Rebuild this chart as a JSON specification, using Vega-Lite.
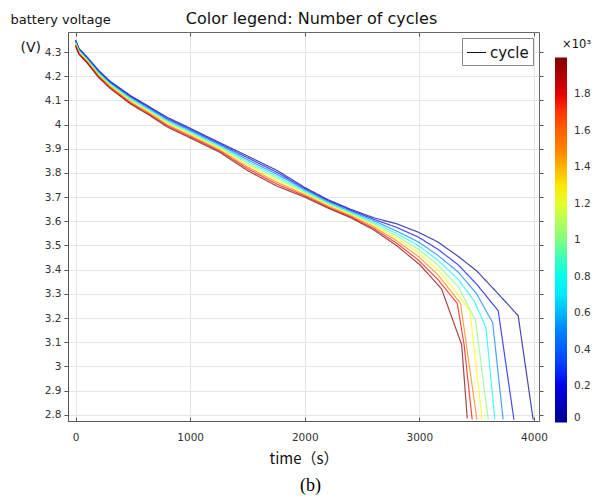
{
  "$schema": "https://vega.github.io/schema/vega-lite/v6.json",
  "width": 471,
  "height": 389,
  "autosize": {"type": "none"},
  "padding": {"left": 68, "top": 32, "right": 67, "bottom": 76},
  "background": "white",
  "title": {"text": "(b)", "orient": "bottom", "frame": "group", "anchor": "middle", "dx": 7, "offset": 10, "font": "Liberation Serif", "fontSize": 18, "fontWeight": "normal", "color": "#000"},
  "data": {"values": [
    {"c":0,"t":0,"v":4.350},{"c":0,"t":30,"v":4.315},{"c":0,"t":100,"v":4.280},{"c":0,"t":200,"v":4.225},{"c":0,"t":300,"v":4.180},{"c":0,"t":480,"v":4.120},{"c":0,"t":640,"v":4.075},{"c":0,"t":800,"v":4.030},{"c":0,"t":1000,"v":3.985},{"c":0,"t":1260,"v":3.925},{"c":0,"t":1500,"v":3.870},{"c":0,"t":1760,"v":3.810},{"c":0,"t":2000,"v":3.740},{"c":0,"t":2200,"v":3.690},{"c":0,"t":2400,"v":3.650},{"c":0,"t":2600,"v":3.615},{"c":0,"t":2800,"v":3.590},{"c":0,"t":2990,"v":3.555},{"c":0,"t":3160,"v":3.515},{"c":0,"t":3339,"v":3.455},{"c":0,"t":3500,"v":3.395},{"c":0,"t":3688,"v":3.300},{"c":0,"t":3862,"v":3.210},{"c":0,"t":3993,"v":2.780},
    {"c":250,"t":0,"v":4.347},{"c":250,"t":30,"v":4.312},{"c":250,"t":100,"v":4.277},{"c":250,"t":200,"v":4.221},{"c":250,"t":300,"v":4.176},{"c":250,"t":480,"v":4.116},{"c":250,"t":640,"v":4.071},{"c":250,"t":800,"v":4.025},{"c":250,"t":1000,"v":3.980},{"c":250,"t":1260,"v":3.920},{"c":250,"t":1500,"v":3.863},{"c":250,"t":1760,"v":3.802},{"c":250,"t":2000,"v":3.735},{"c":250,"t":2200,"v":3.686},{"c":250,"t":2400,"v":3.646},{"c":250,"t":2600,"v":3.609},{"c":250,"t":2800,"v":3.575},{"c":250,"t":2990,"v":3.535},{"c":250,"t":3160,"v":3.485},{"c":250,"t":3339,"v":3.420},{"c":250,"t":3500,"v":3.340},{"c":250,"t":3688,"v":3.230},{"c":250,"t":3825,"v":2.780},
    {"c":500,"t":0,"v":4.344},{"c":500,"t":30,"v":4.309},{"c":500,"t":100,"v":4.274},{"c":500,"t":200,"v":4.218},{"c":500,"t":300,"v":4.173},{"c":500,"t":480,"v":4.111},{"c":500,"t":640,"v":4.066},{"c":500,"t":800,"v":4.020},{"c":500,"t":1000,"v":3.975},{"c":500,"t":1260,"v":3.915},{"c":500,"t":1500,"v":3.855},{"c":500,"t":1760,"v":3.794},{"c":500,"t":2000,"v":3.730},{"c":500,"t":2200,"v":3.681},{"c":500,"t":2400,"v":3.641},{"c":500,"t":2600,"v":3.603},{"c":500,"t":2800,"v":3.560},{"c":500,"t":2990,"v":3.515},{"c":500,"t":3160,"v":3.460},{"c":500,"t":3339,"v":3.390},{"c":500,"t":3500,"v":3.300},{"c":500,"t":3640,"v":3.180},{"c":500,"t":3731,"v":2.780},
    {"c":750,"t":0,"v":4.341},{"c":750,"t":30,"v":4.306},{"c":750,"t":100,"v":4.271},{"c":750,"t":200,"v":4.214},{"c":750,"t":300,"v":4.169},{"c":750,"t":480,"v":4.107},{"c":750,"t":640,"v":4.062},{"c":750,"t":800,"v":4.015},{"c":750,"t":1000,"v":3.970},{"c":750,"t":1260,"v":3.910},{"c":750,"t":1500,"v":3.848},{"c":750,"t":1760,"v":3.786},{"c":750,"t":2000,"v":3.725},{"c":750,"t":2200,"v":3.677},{"c":750,"t":2400,"v":3.637},{"c":750,"t":2600,"v":3.596},{"c":750,"t":2800,"v":3.550},{"c":750,"t":2990,"v":3.500},{"c":750,"t":3160,"v":3.440},{"c":750,"t":3339,"v":3.360},{"c":750,"t":3480,"v":3.270},{"c":750,"t":3581,"v":3.160},{"c":750,"t":3659,"v":2.780},
    {"c":1000,"t":0,"v":4.338},{"c":1000,"t":30,"v":4.303},{"c":1000,"t":100,"v":4.268},{"c":1000,"t":200,"v":4.210},{"c":1000,"t":300,"v":4.165},{"c":1000,"t":480,"v":4.103},{"c":1000,"t":640,"v":4.058},{"c":1000,"t":800,"v":4.010},{"c":1000,"t":1000,"v":3.965},{"c":1000,"t":1260,"v":3.905},{"c":1000,"t":1500,"v":3.840},{"c":1000,"t":1760,"v":3.778},{"c":1000,"t":2000,"v":3.720},{"c":1000,"t":2200,"v":3.673},{"c":1000,"t":2400,"v":3.633},{"c":1000,"t":2600,"v":3.590},{"c":1000,"t":2800,"v":3.540},{"c":1000,"t":2990,"v":3.485},{"c":1000,"t":3160,"v":3.420},{"c":1000,"t":3339,"v":3.330},{"c":1000,"t":3490,"v":3.190},{"c":1000,"t":3601,"v":2.780},
    {"c":1250,"t":0,"v":4.334},{"c":1250,"t":30,"v":4.299},{"c":1250,"t":100,"v":4.264},{"c":1250,"t":200,"v":4.206},{"c":1250,"t":300,"v":4.161},{"c":1250,"t":480,"v":4.098},{"c":1250,"t":640,"v":4.053},{"c":1250,"t":800,"v":4.005},{"c":1250,"t":1000,"v":3.960},{"c":1250,"t":1260,"v":3.900},{"c":1250,"t":1500,"v":3.833},{"c":1250,"t":1760,"v":3.769},{"c":1250,"t":2000,"v":3.715},{"c":1250,"t":2200,"v":3.668},{"c":1250,"t":2400,"v":3.628},{"c":1250,"t":2600,"v":3.584},{"c":1250,"t":2800,"v":3.530},{"c":1250,"t":2990,"v":3.470},{"c":1250,"t":3160,"v":3.400},{"c":1250,"t":3300,"v":3.320},{"c":1250,"t":3441,"v":3.230},{"c":1250,"t":3548,"v":2.780},
    {"c":1500,"t":0,"v":4.331},{"c":1500,"t":30,"v":4.296},{"c":1500,"t":100,"v":4.261},{"c":1500,"t":200,"v":4.203},{"c":1500,"t":300,"v":4.158},{"c":1500,"t":480,"v":4.094},{"c":1500,"t":640,"v":4.049},{"c":1500,"t":800,"v":4.000},{"c":1500,"t":1000,"v":3.955},{"c":1500,"t":1260,"v":3.895},{"c":1500,"t":1500,"v":3.825},{"c":1500,"t":1760,"v":3.761},{"c":1500,"t":2000,"v":3.710},{"c":1500,"t":2200,"v":3.664},{"c":1500,"t":2400,"v":3.624},{"c":1500,"t":2600,"v":3.578},{"c":1500,"t":2800,"v":3.520},{"c":1500,"t":2990,"v":3.455},{"c":1500,"t":3160,"v":3.380},{"c":1500,"t":3360,"v":3.260},{"c":1500,"t":3502,"v":2.780},
    {"c":1750,"t":0,"v":4.328},{"c":1750,"t":30,"v":4.293},{"c":1750,"t":100,"v":4.258},{"c":1750,"t":200,"v":4.199},{"c":1750,"t":300,"v":4.154},{"c":1750,"t":480,"v":4.089},{"c":1750,"t":640,"v":4.044},{"c":1750,"t":800,"v":3.995},{"c":1750,"t":1000,"v":3.950},{"c":1750,"t":1260,"v":3.890},{"c":1750,"t":1500,"v":3.818},{"c":1750,"t":1760,"v":3.753},{"c":1750,"t":2000,"v":3.705},{"c":1750,"t":2200,"v":3.659},{"c":1750,"t":2400,"v":3.619},{"c":1750,"t":2600,"v":3.571},{"c":1750,"t":2800,"v":3.510},{"c":1750,"t":2990,"v":3.440},{"c":1750,"t":3160,"v":3.360},{"c":1750,"t":3331,"v":3.260},{"c":1750,"t":3390,"v":3.090},{"c":1750,"t":3461,"v":2.780},
    {"c":2000,"t":0,"v":4.325},{"c":2000,"t":30,"v":4.290},{"c":2000,"t":100,"v":4.255},{"c":2000,"t":200,"v":4.195},{"c":2000,"t":300,"v":4.150},{"c":2000,"t":480,"v":4.085},{"c":2000,"t":640,"v":4.040},{"c":2000,"t":800,"v":3.990},{"c":2000,"t":1000,"v":3.945},{"c":2000,"t":1260,"v":3.885},{"c":2000,"t":1500,"v":3.810},{"c":2000,"t":1760,"v":3.745},{"c":2000,"t":2000,"v":3.700},{"c":2000,"t":2200,"v":3.655},{"c":2000,"t":2400,"v":3.615},{"c":2000,"t":2600,"v":3.565},{"c":2000,"t":2800,"v":3.500},{"c":2000,"t":3005,"v":3.420},{"c":2000,"t":3194,"v":3.320},{"c":2000,"t":3369,"v":3.090},{"c":2000,"t":3418,"v":2.785}
  ]},
  "layer": [
    {
      "mark": {"type": "line", "strokeWidth": 1.2, "strokeOpacity": 0.72, "clip": true},
      "encoding": {
        "x": {"field": "t", "type": "quantitative",
          "scale": {"domain": [-66, 4044], "nice": false, "zero": false},
          "axis": {"orient": "bottom", "values": [0, 1000, 2000, 3000, 4000], "format": "d", "tickSize": -4, "labelPadding": 15,
            "title": "time（s）", "titleFont": "Noto Sans CJK SC", "titleFontSize": 15, "titlePadding": 9}},
        "y": {"field": "v", "type": "quantitative",
          "scale": {"domain": [2.774, 4.383], "nice": false, "zero": false},
          "axis": {"orient": "left", "values": [2.8, 2.9, 3.0, 3.1, 3.2, 3.3, 3.4, 3.5, 3.6, 3.7, 3.8, 3.9, 4.0, 4.1, 4.2, 4.3], "format": ".1~f", "tickSize": 4, "labelPadding": 3,
            "title": "(V)", "titleAngle": 0, "titleAlign": "left", "titleBaseline": "alphabetic", "titleX": -48, "titleY": 19, "titleFontSize": 14}},
        "color": {"field": "c", "type": "quantitative",
          "scale": {"domain": [0, 2000], "range": ["#00008f", "#0000ff", "#0080ff", "#00ffff", "#80ff80", "#ffff00", "#ff8000", "#ff0000", "#800000"]},
          "legend": {"orient": "none", "legendX": 487, "legendY": 7, "direction": "vertical", "title": "×10³", "titleFontSize": 11.5, "titleAnchor": "end", "titlePadding": 7,
            "gradientLength": 365, "gradientThickness": 12, "gradientStrokeWidth": 0, "padding": 0,
            "values": [0, 200, 400, 600, 800, 1000, 1200, 1400, 1600, 1800],
            "labelExpr": "format(datum.value / 1000, '.1~f')", "labelOffset": 7, "labelOverlap": false}},
        "strokeDash": {"datum": "cycle", "type": "nominal",
          "scale": {"domain": ["cycle"], "range": [[1, 0]]},
          "legend": {"orient": "none", "legendX": 394, "legendY": 6, "title": null, "labelFont": "DejaVu Sans", "labelFontSize": 15, "labelColor": "#111",
            "symbolType": "stroke", "symbolSize": 361, "symbolStrokeColor": "#111", "symbolStrokeWidth": 1.2,
            "strokeColor": "#888", "fillColor": "white", "padding": 4, "labelOffset": 3}},
        "detail": {"field": "c", "type": "quantitative"}
      }
    },
    {
      "mark": {"type": "line", "opacity": 0},
      "encoding": {
        "x": {"field": "t", "type": "quantitative",
          "axis": {"orient": "top", "values": [0, 1000, 2000, 3000, 4000], "labels": false, "grid": false, "domain": false, "tickSize": -4,
            "title": "Color legend: Number of cycles", "titleFontSize": 16, "titleAlign": "center", "titleBaseline": "alphabetic", "titleX": 243, "titleY": -9}},
        "y": {"field": "v", "type": "quantitative",
          "axis": {"orient": "right", "values": [2.8, 2.9, 3.0, 3.1, 3.2, 3.3, 3.4, 3.5, 3.6, 3.7, 3.8, 3.9, 4.0, 4.1, 4.2, 4.3], "labels": false, "grid": false, "domain": false, "tickSize": 4,
            "title": "battery voltage", "titleAngle": 0, "titleAlign": "left", "titleBaseline": "alphabetic", "titleX": -529, "titleY": -9, "titleFontSize": 13}},
        "detail": {"field": "c", "type": "quantitative"}
      }
    }
  ],
  "resolve": {"axis": {"x": "independent", "y": "independent"}},
  "config": {
    "view": {"stroke": "#666", "strokeWidth": 1},
    "axis": {"labelFont": "DejaVu Sans", "labelFontSize": 10.5, "labelColor": "#333", "titleFont": "DejaVu Sans", "titleFontWeight": "normal", "titleColor": "#111",
      "gridColor": "#e4e4e4", "domainColor": "#555", "tickColor": "#555"},
    "legend": {"labelFont": "DejaVu Sans", "labelFontSize": 10.5, "labelColor": "#333", "titleFont": "DejaVu Sans", "titleFontWeight": "normal", "titleColor": "#111"}
  }
}
